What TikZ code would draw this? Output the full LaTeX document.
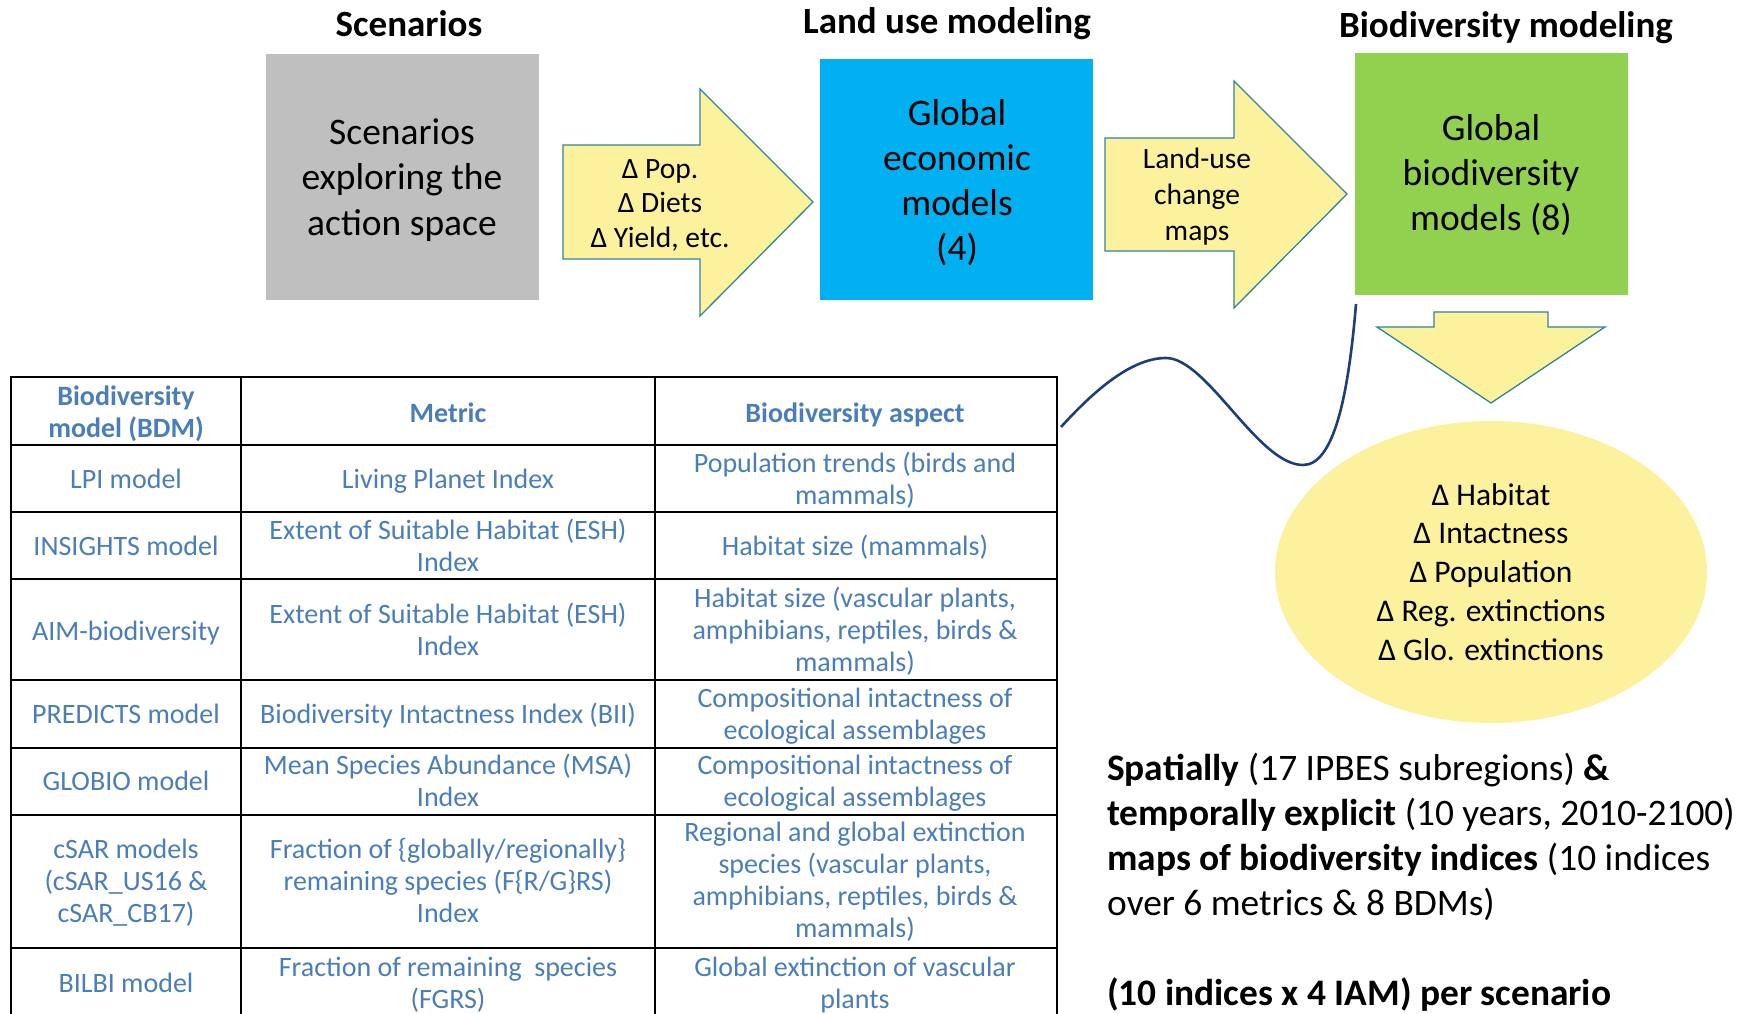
\documentclass[tikz,border=0pt]{standalone}
\usepackage{fontspec}
\setmainfont{Carlito}
\usetikzlibrary{shapes.geometric}

\definecolor{scengray}{HTML}{BFBFBF}
\definecolor{econblue}{HTML}{00B0F0}
\definecolor{biogreen}{HTML}{92D050}
\definecolor{flowyellow}{HTML}{FCF29D}
\definecolor{flowedge}{HTML}{31859C}
\definecolor{tblblue}{HTML}{4A7EBB}
\definecolor{linknavy}{HTML}{1F3D7B}

% multi-line text whose baseline is that of its first line
\newcommand\mlines[1]{\begin{tabular}[t]{@{}c@{}}#1\end{tabular}}
\newcommand\llines[1]{\begin{tabular}[t]{@{}l@{}}#1\end{tabular}}

\begin{document}
\begin{tikzpicture}[x=1pt,y=-1pt,
  title/.style={anchor=base, inner sep=0pt, font=\fontsize{37}{44}\selectfont\bfseries},
  block/.style={draw=none, inner sep=0pt, minimum width=273pt},
  boxtext/.style={anchor=base, inner sep=0pt, font=\fontsize{37.5}{45}\selectfont},
  flowtext/.style={anchor=base, inner sep=0pt, font=\fontsize{29.5}{35}\selectfont},
  blockarrow/.style={fill=flowyellow, draw=flowedge, line width=1.3pt, line join=miter},
  tcell/.style={anchor=base, inner sep=0pt, text=tblblue, font=\fontsize{28}{32}\selectfont},
  thead/.style={tcell, font=\fontsize{28}{32}\selectfont\bfseries},
  grid/.style={line width=2.6pt, black, line cap=rect},
  link/.style={draw=linknavy, line width=2.6pt},
]
\fill[white] (0,0) rectangle (1737,1014);
\path[use as bounding box] (0,0) rectangle (1737,1014);

% column titles
\node[title] (tscen) at (409,37) {Scenarios};
\node[title] (tland) at (947,34) {Land use modeling};
\node[title] (tbio)  at (1506,38) {Biodiversity modeling};

% model blocks
\node[block, fill=scengray, minimum height=246pt] (scen) at (402.5,177) {};
\node[block, fill=econblue, minimum height=241pt] (econ) at (956.5,179.5) {};
\node[block, fill=biogreen, minimum height=242pt] (gbm)  at (1491.5,174) {};

\node[boxtext] (scentxt) at (402,145) {\mlines{Scenarios\\exploring the\\action space}};
\node[boxtext] (econtxt) at (957,125) {\mlines{Global\\economic\\models\\(4)}};
\node[boxtext] (gbmtxt)  at (1491,140) {\mlines{Global\\biodiversity\\models (8)}};

% block arrows between the stages
\draw[blockarrow] (563,145) -- (700,145) -- (700,89) -- (813,202) -- (700,316) -- (700,259) -- (563,259) -- cycle;
\node[flowtext] (drivers) at (660,178) {\mlines{Δ Pop.\\Δ Diets\\Δ Yield, etc.}};

\draw[blockarrow] (1105,138) -- (1234,138) -- (1234,81) -- (1347,194) -- (1234,308) -- (1234,251) -- (1105,251) -- cycle;
\node[flowtext, font=\fontsize{29.5}{36}\selectfont] (lucmaps) at (1197,168) {\mlines{Land-use\\change\\maps}};

\draw[blockarrow] (1434,312) -- (1548,312) -- (1548,327) -- (1605,327) -- (1491,403) -- (1377,327) -- (1434,327) -- cycle;

% outputs
\node[ellipse, fill=flowyellow, draw=none, minimum width=432pt, minimum height=302pt, inner sep=0pt] (impact) at (1491,572) {};
\node[anchor=base, inner sep=0pt, font=\fontsize{31.5}{38.8}\selectfont] (impacttxt) at (1491,505)
  {\mlines{Δ Habitat\\Δ Intactness\\Δ Population\\Δ Reg. extinctions\\Δ Glo. extinctions}};

% link from the table to the biodiversity models
\coordinate (linkstart) at (1061,427);
\coordinate (linkend) at (1356,304);
\draw[link] (linkstart) .. controls (1100,384) and (1135,358) .. (1166,358)
  .. controls (1207,358) and (1258,465) .. (1303,465)
  .. controls (1333,465) and (1348,400) .. (linkend);

% table of biodiversity models
\foreach \y in {377,445,512,579,680,748,815,948} \draw[grid] (11,\y) -- (1057,\y);
\foreach \x in {11,241,655,1057} \draw[grid] (\x,377) -- (\x,1016);

\node[thead] (h1) at (126,405) {\mlines{Biodiversity\\model (BDM)}};
\node[thead] (h2) at (448,422) {Metric};
\node[thead] (h3) at (855,422) {Biodiversity aspect};

\node[tcell] (r1a) at (126,488) {LPI model};
\node[tcell] (r1b) at (448,488) {Living Planet Index};
\node[tcell] (r1c) at (855,472) {\mlines{Population trends (birds and\\mammals)}};

\node[tcell] (r2a) at (126,555) {INSIGHTS model};
\node[tcell] (r2b) at (448,539) {\mlines{Extent of Suitable Habitat (ESH)\\Index}};
\node[tcell] (r2c) at (855,555) {Habitat size (mammals)};

\node[tcell] (r3a) at (126,640) {AIM-biodiversity};
\node[tcell] (r3b) at (448,623) {\mlines{Extent of Suitable Habitat (ESH)\\Index}};
\node[tcell] (r3c) at (855,607) {\mlines{Habitat size (vascular plants,\\amphibians, reptiles, birds \&\\mammals)}};

\node[tcell] (r4a) at (126,723) {PREDICTS model};
\node[tcell] (r4b) at (448,723) {Biodiversity Intactness Index (BII)};
\node[tcell] (r4c) at (855,707) {\mlines{Compositional intactness of\\ecological assemblages}};

\node[tcell] (r5a) at (126,790) {GLOBIO model};
\node[tcell] (r5b) at (448,774) {\mlines{Mean Species Abundance (MSA)\\Index}};
\node[tcell] (r5c) at (855,774) {\mlines{Compositional intactness of\\ecological assemblages}};

\node[tcell] (r6a) at (126,858) {\mlines{cSAR models\\(cSAR\_US16 \&\\cSAR\_CB17)}};
\node[tcell] (r6b) at (448,858) {\mlines{Fraction of \{globally/regionally\}\\remaining species (F\{R/G\}RS)\\Index}};
\node[tcell] (r6c) at (855,841) {\mlines{Regional and global extinction\\species (vascular plants,\\amphibians, reptiles, birds \&\\mammals)}};

\node[tcell] (r7a) at (126,992) {BILBI model};
\node[tcell] (r7b) at (448,976) {\mlines{Fraction of remaining\ \ species\\(FGRS)}};
\node[tcell] (r7c) at (855,976) {\mlines{Global extinction of vascular\\plants}};

% summary of the outputs
\node[anchor=base west, inner sep=0pt, font=\fontsize{37.4}{45}\selectfont] (summary) at (1107,780)
  {\llines{\textbf{Spatially} (17 IPBES subregions) \textbf{\&}\\
           \textbf{temporally explicit} (10 years, 2010-2100)\\
           \textbf{maps of biodiversity indices} (10 indices\\
           over 6 metrics \& 8 BDMs)\\
           \\
           \textbf{(10 indices x 4 IAM) per scenario}}};
\end{tikzpicture}
\end{document}
